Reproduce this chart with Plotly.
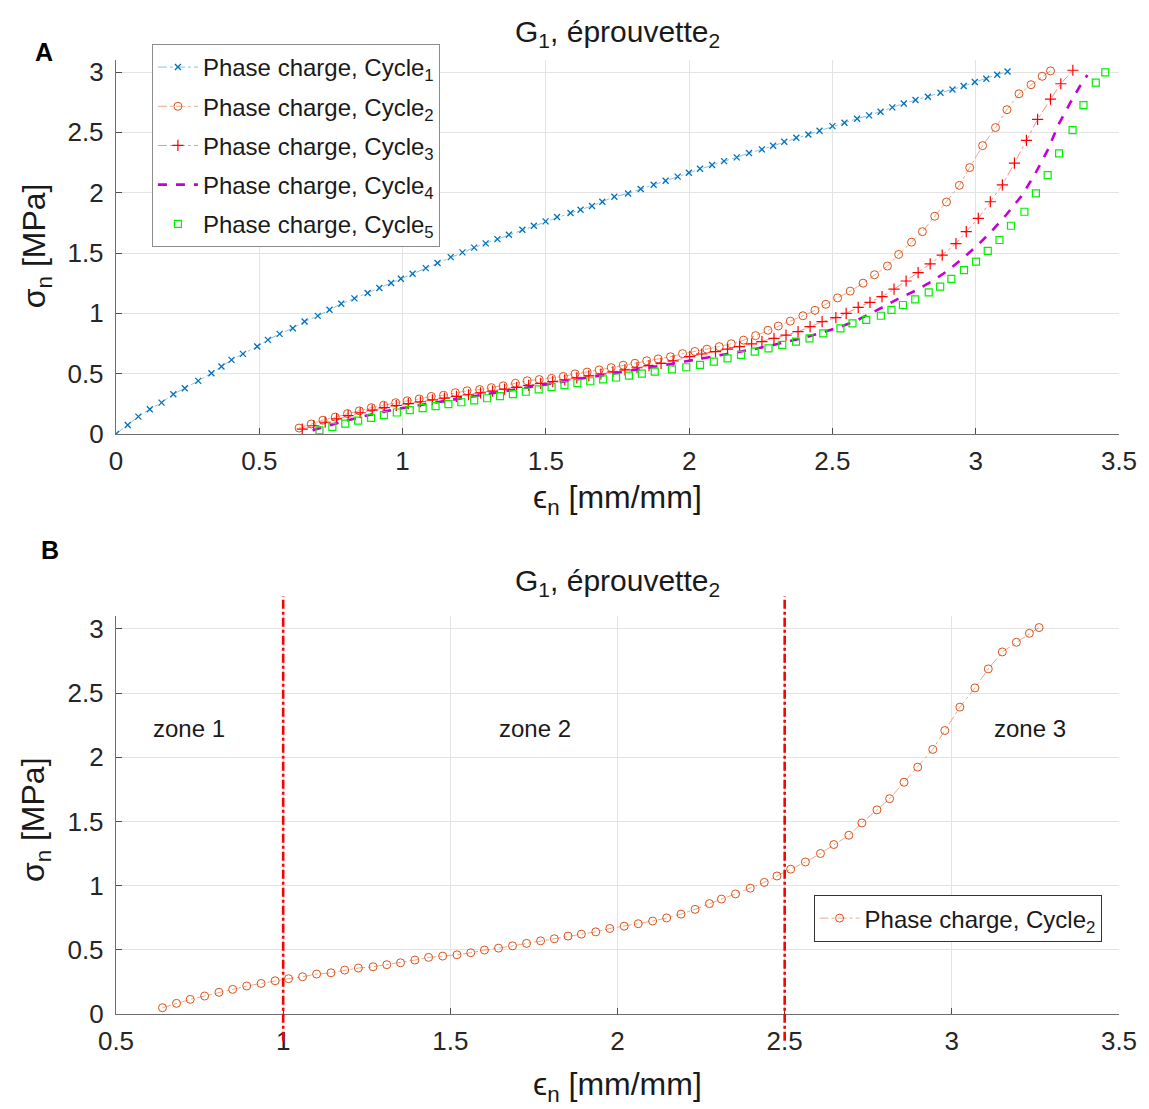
import plotly.graph_objects as go

# ---------------- data ----------------
cycle1_x = [0.0, 0.041, 0.078, 0.118, 0.159, 0.200, 0.240, 0.287, 0.333, 0.368,
            0.403, 0.443, 0.493, 0.530, 0.571, 0.617, 0.658, 0.704, 0.745, 0.786,
            0.832, 0.878, 0.919, 0.960, 0.994, 1.035, 1.081, 1.122, 1.168, 1.209,
            1.250, 1.290, 1.331, 1.371, 1.418, 1.458, 1.499, 1.539, 1.586, 1.621,
            1.661, 1.697, 1.739, 1.787, 1.831, 1.876, 1.918, 1.960, 1.999, 2.038,
            2.080, 2.122, 2.166, 2.209, 2.254, 2.293, 2.332, 2.374, 2.416, 2.455,
            2.500, 2.542, 2.586, 2.628, 2.668, 2.709, 2.749, 2.790, 2.833, 2.877,
            2.919, 2.958, 2.997, 3.037, 3.075, 3.111]
cycle1_y = [0.0, 0.075, 0.144, 0.205, 0.260, 0.329, 0.379, 0.440, 0.503, 0.559,
            0.614, 0.664, 0.725, 0.780, 0.830, 0.877, 0.932, 0.979, 1.029, 1.079,
            1.124, 1.168, 1.210, 1.251, 1.286, 1.328, 1.375, 1.417, 1.466, 1.505,
            1.545, 1.580, 1.615, 1.651, 1.693, 1.726, 1.762, 1.798, 1.832, 1.859,
            1.890, 1.925, 1.967, 1.994, 2.030, 2.066, 2.099, 2.133, 2.166, 2.199,
            2.229, 2.262, 2.293, 2.329, 2.359, 2.389, 2.423, 2.456, 2.483, 2.514,
            2.552, 2.580, 2.613, 2.641, 2.671, 2.707, 2.740, 2.768, 2.796, 2.829,
            2.856, 2.884, 2.917, 2.945, 2.978, 3.005]

cycle2_x = [0.639, 0.681, 0.722, 0.765, 0.808, 0.849, 0.891, 0.934, 0.976, 1.016,
            1.058, 1.100, 1.143, 1.184, 1.225, 1.269, 1.310, 1.351, 1.394, 1.435,
            1.477, 1.520, 1.561, 1.602, 1.644, 1.686, 1.728, 1.770, 1.811, 1.852,
            1.892, 1.935, 1.977, 2.020, 2.062, 2.105, 2.147, 2.190, 2.232, 2.275,
            2.311, 2.353, 2.397, 2.439, 2.477, 2.518, 2.562, 2.607, 2.647, 2.692,
            2.731, 2.776, 2.814, 2.857, 2.898, 2.943, 2.979, 3.024, 3.069, 3.109,
            3.151, 3.193, 3.232, 3.261]
cycle2_y = [0.049, 0.083, 0.114, 0.140, 0.169, 0.192, 0.218, 0.238, 0.259, 0.275,
            0.290, 0.311, 0.321, 0.342, 0.358, 0.368, 0.384, 0.399, 0.420, 0.441,
            0.451, 0.461, 0.477, 0.498, 0.513, 0.531, 0.550, 0.570, 0.586, 0.607,
            0.622, 0.640, 0.666, 0.684, 0.703, 0.724, 0.748, 0.778, 0.815, 0.860,
            0.895, 0.935, 0.980, 1.025, 1.075, 1.128, 1.184, 1.250, 1.320, 1.392,
            1.488, 1.590, 1.677, 1.805, 1.923, 2.061, 2.208, 2.390, 2.540, 2.688,
            2.820, 2.895, 2.965, 3.010]

cycle3_x = [0.650, 0.690, 0.730, 0.770, 0.810, 0.852, 0.894, 0.936, 0.978, 1.020,
            1.062, 1.104, 1.146, 1.188, 1.230, 1.272, 1.314, 1.356, 1.398, 1.440,
            1.482, 1.524, 1.566, 1.608, 1.650, 1.692, 1.734, 1.776, 1.818, 1.860,
            1.902, 1.944, 2.002, 2.044, 2.092, 2.134, 2.176, 2.218, 2.254, 2.296,
            2.338, 2.380, 2.422, 2.464, 2.512, 2.548, 2.590, 2.631, 2.673, 2.715,
            2.757, 2.799, 2.841, 2.883, 2.931, 2.967, 3.009, 3.051, 3.093, 3.135,
            3.177, 3.216, 3.261, 3.297, 3.339]
cycle3_y = [0.040, 0.068, 0.097, 0.125, 0.152, 0.176, 0.198, 0.218, 0.236, 0.252,
            0.267, 0.282, 0.297, 0.311, 0.325, 0.340, 0.355, 0.371, 0.387, 0.403,
            0.419, 0.434, 0.449, 0.465, 0.481, 0.497, 0.514, 0.531, 0.549, 0.567,
            0.585, 0.606, 0.641, 0.663, 0.682, 0.704, 0.724, 0.746, 0.765, 0.793,
            0.820, 0.848, 0.889, 0.931, 0.964, 1.000, 1.050, 1.091, 1.138, 1.200,
            1.268, 1.338, 1.410, 1.483, 1.578, 1.677, 1.787, 1.925, 2.065, 2.245,
            2.434, 2.608, 2.775, 2.903, 3.015]

cycle4_x = [0.686, 0.730, 0.780, 0.830, 0.880, 0.930, 0.980, 1.030, 1.080, 1.130,
            1.180, 1.230, 1.280, 1.330, 1.380, 1.430, 1.480, 1.530, 1.580, 1.630,
            1.685, 1.745, 1.804, 1.864, 1.924, 1.984, 2.044, 2.104, 2.164, 2.224,
            2.284, 2.344, 2.404, 2.464, 2.524, 2.584, 2.644, 2.683, 2.729, 2.787,
            2.845, 2.897, 2.955, 3.007, 3.054, 3.106, 3.158, 3.205, 3.251, 3.291,
            3.332, 3.363, 3.390]
cycle4_y = [0.030, 0.062, 0.095, 0.127, 0.157, 0.183, 0.207, 0.228, 0.248, 0.268,
            0.287, 0.306, 0.325, 0.344, 0.363, 0.382, 0.401, 0.420, 0.440, 0.460,
            0.480, 0.503, 0.525, 0.550, 0.575, 0.600, 0.625, 0.650, 0.675, 0.702,
            0.732, 0.765, 0.800, 0.840, 0.885, 0.940, 1.010, 1.060, 1.120, 1.185,
            1.262, 1.345, 1.456, 1.566, 1.677, 1.815, 1.967, 2.146, 2.353, 2.575,
            2.754, 2.880, 2.975]

cycle5_x = [0.710, 0.755, 0.800, 0.845, 0.890, 0.935, 0.980, 1.025, 1.070, 1.115,
            1.160, 1.205, 1.250, 1.295, 1.340, 1.385, 1.430, 1.475, 1.520, 1.565,
            1.610, 1.655, 1.700, 1.745, 1.790, 1.835, 1.880, 1.940, 1.990, 2.038,
            2.086, 2.134, 2.181, 2.229, 2.277, 2.325, 2.373, 2.420, 2.468, 2.528,
            2.570, 2.618, 2.669, 2.706, 2.746, 2.789, 2.836, 2.876, 2.915, 2.959,
            3.001, 3.042, 3.083, 3.123, 3.170, 3.210, 3.251, 3.291, 3.338, 3.376,
            3.419, 3.452]
cycle5_y = [0.030, 0.058, 0.085, 0.110, 0.134, 0.157, 0.178, 0.198, 0.215, 0.231,
            0.247, 0.263, 0.279, 0.296, 0.313, 0.331, 0.350, 0.369, 0.388, 0.405,
            0.421, 0.437, 0.453, 0.468, 0.483, 0.500, 0.516, 0.536, 0.553, 0.572,
            0.600, 0.627, 0.655, 0.682, 0.710, 0.738, 0.765, 0.793, 0.834, 0.876,
            0.917, 0.945, 0.980, 1.028, 1.069, 1.116, 1.174, 1.221, 1.285, 1.359,
            1.428, 1.517, 1.608, 1.726, 1.842, 1.995, 2.146, 2.326, 2.519, 2.726,
            2.912, 2.997]

series_names = ["Phase charge, Cycle<sub>1</sub>", "Phase charge, Cycle<sub>2</sub>",
                "Phase charge, Cycle<sub>3</sub>", "Phase charge, Cycle<sub>4</sub>",
                "Phase charge, Cycle<sub>5</sub>"]
zone_bounds = [1.0, 2.5]
zone_labels = ["zone 1", "zone 2", "zone 3"]
x_ticks_top = [0, 0.5, 1, 1.5, 2, 2.5, 3, 3.5]
x_ticks_bot = [0.5, 1, 1.5, 2, 2.5, 3, 3.5]
y_ticks = [0, 0.5, 1, 1.5, 2, 2.5, 3]

FONT = "Liberation Sans, Arial, Helvetica, sans-serif"
BLUE = "#0072BD"
ORANGE = "#D95319"
RED = "#FF0000"
MAG = "#C400D4"
GREEN = "#00F000"

fig = go.Figure()

# ---------------- top panel ----------------
fig.add_trace(go.Scatter(
    x=cycle1_x, y=cycle1_y, name=series_names[0], mode="lines+markers",
    line=dict(color="rgba(0,114,189,0.45)", width=1, dash="dashdot"),
    marker=dict(symbol="x-thin", size=6, color=BLUE, line=dict(color=BLUE, width=1.3)),
    xaxis="x", yaxis="y", legend="legend", legendgroup="c1"))
fig.add_trace(go.Scatter(
    x=cycle2_x, y=cycle2_y, name=series_names[1], mode="lines+markers",
    line=dict(color="rgba(217,83,25,0.5)", width=1, dash="dashdot"),
    marker=dict(symbol="circle-open", size=8, color=ORANGE, line=dict(color=ORANGE, width=1)),
    xaxis="x", yaxis="y", legend="legend", legendgroup="c2"))
fig.add_trace(go.Scatter(
    x=cycle3_x, y=cycle3_y, name=series_names[2], mode="lines+markers",
    line=dict(color="rgba(255,0,0,0.45)", width=1, dash="dashdot"),
    marker=dict(symbol="cross-thin", size=8, color=RED, line=dict(color=RED, width=1.2)),
    xaxis="x", yaxis="y", legend="legend", legendgroup="c3"))
fig.add_trace(go.Scatter(
    x=cycle4_x, y=cycle4_y, name=series_names[3], mode="lines",
    line=dict(color=MAG, width=2.6, dash="dash"),
    xaxis="x", yaxis="y", legend="legend", legendgroup="c4"))
fig.add_trace(go.Scatter(
    x=cycle5_x, y=cycle5_y, name=series_names[4], mode="markers",
    marker=dict(symbol="square-open", size=7, color=GREEN, line=dict(color=GREEN, width=1.2)),
    xaxis="x", yaxis="y", legend="legend", legendgroup="c5"))

# ---------------- bottom panel ----------------
fig.add_trace(go.Scatter(
    x=cycle2_x, y=cycle2_y, name=series_names[1], mode="lines+markers",
    line=dict(color="rgba(217,83,25,0.5)", width=1, dash="dashdot"),
    marker=dict(symbol="circle-open", size=8, color=ORANGE, line=dict(color=ORANGE, width=1)),
    xaxis="x2", yaxis="y2", legend="legend2", legendgroup="b2"))

# zone boundaries (vertical red dash-dot lines)
for xb in zone_bounds:
    fig.add_shape(type="line", xref="x2", yref="paper", x0=xb, x1=xb,
                  y0=-0.028, y1=0.438,
                  line=dict(color=RED, width=2.6, dash="dashdot"), layer="above")

zone_pos_x = [0.717, 1.754, 3.234]
for lab, zx in zip(zone_labels, zone_pos_x):
    fig.add_annotation(x=zx, y=2.22, xref="x2", yref="y2", text=lab, showarrow=False,
                       xanchor="center", yanchor="middle",
                       font=dict(family=FONT, size=24, color="#1a1a1a"))

# ---------------- axes ----------------
axis_common = dict(showgrid=True, gridcolor="#e3e3e3", gridwidth=1,
                   showline=True, linecolor="#6e6e6e", linewidth=1.4,
                   ticks="inside", ticklen=6, tickcolor="#4d4d4d", tickwidth=1.4,
                   zeroline=False, mirror=False,
                   tickfont=dict(family=FONT, size=26, color="#262626"))

fig.update_layout(
    width=1141, height=1101,
    margin=dict(l=108, r=28, t=52, b=95),
    paper_bgcolor="white", plot_bgcolor="white",
    font=dict(family=FONT, color="#262626"),
    xaxis=dict(domain=[0, 1], range=[0, 3.5], tickvals=x_ticks_top,
               ticktext=[f"{v:g}" for v in x_ticks_top], anchor="y",
               ticklabelstandoff=4, **axis_common),
    yaxis=dict(domain=[0.608, 1], range=[0, 3.1], tickvals=y_ticks,
               ticktext=[f"{v:g}" for v in y_ticks], anchor="x",
               ticklabelstandoff=6, **axis_common),
    xaxis2=dict(domain=[0, 1], range=[0.5, 3.5], tickvals=x_ticks_bot,
                ticktext=[f"{v:g}" for v in x_ticks_bot], anchor="y2",
                ticklabelstandoff=4, **axis_common),
    yaxis2=dict(domain=[0, 0.4172], range=[0, 3.1], tickvals=y_ticks,
                ticktext=[f"{v:g}" for v in y_ticks], anchor="x2",
                ticklabelstandoff=6, **axis_common),
    legend=dict(x=0.0358, y=1.0168, xanchor="left", yanchor="top",
                bgcolor="white", bordercolor="#8c8c8c", borderwidth=1,
                font=dict(family=FONT, size=24, color="#1a1a1a"),
                itemwidth=40, tracegroupgap=5),
    legend2=dict(x=0.6955, y=0.1247, xanchor="left", yanchor="top",
                 bgcolor="white", bordercolor="#333333", borderwidth=1,
                 font=dict(family=FONT, size=24, color="#1a1a1a"),
                 itemwidth=40),
    showlegend=True,
)

# titles, axis labels, panel letters
title_font = dict(family=FONT, size=30, color="#1a1a1a")
label_font = dict(family=FONT, size=32, color="#1a1a1a")
common_ann = dict(xref="paper", yref="paper", showarrow=False,
                  xanchor="center", yanchor="middle")
fig.add_annotation(text="G<sub>1</sub>, éprouvette<sub>2</sub>", x=0.5, y=1.0283,
                   font=title_font, **common_ann)
fig.add_annotation(text="G<sub>1</sub>, éprouvette<sub>2</sub>", x=0.5, y=0.452,
                   font=title_font, **common_ann)
fig.add_annotation(text="ϵ<sub>n</sub> [mm/mm]", x=0.5, y=0.5388,
                   font=label_font, **common_ann)
fig.add_annotation(text="ϵ<sub>n</sub> [mm/mm]", x=0.5, y=-0.0755,
                   font=label_font, **common_ann)
fig.add_annotation(text="σ<sub>n</sub> [MPa]", x=-0.0796, y=0.805, textangle=-90,
                   font=label_font, **common_ann)
fig.add_annotation(text="σ<sub>n</sub> [MPa]", x=-0.0796, y=0.2034, textangle=-90,
                   font=label_font, **common_ann)
fig.add_annotation(text="<b>A</b>", x=-0.0716, y=1.0084,
                   font=dict(family=FONT, size=25, color="black"), **common_ann)
fig.add_annotation(text="<b>B</b>", x=-0.0657, y=0.4864,
                   font=dict(family=FONT, size=25, color="black"), **common_ann)

fig.write_html("out.html")
